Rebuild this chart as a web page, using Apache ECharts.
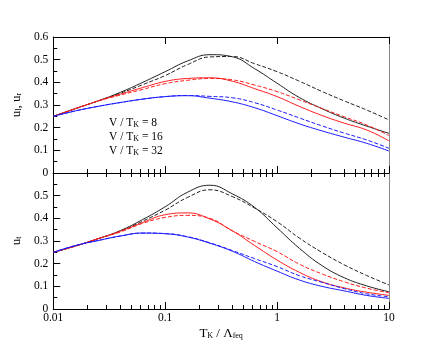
<!DOCTYPE html>
<html><head><meta charset="utf-8">
<script src="https://cdn.jsdelivr.net/npm/echarts@6/dist/echarts.min.js"></script>
<style>html,body{margin:0;padding:0;background:#fff}#c{width:436px;height:344px}</style>
</head><body><div id="c"></div>
<script>
const xs = [0.01,0.0158,0.0251,0.0398,0.0631,0.1,0.158,0.251,0.398,0.631,1,1.58,2.51,3.98,6.31,10];
// top panel (u_l, u_r)
const topBlackSolid  = [.25,.284,.318,.356,.4,.447,.494,.522,.513,.46,.396,.333,.284,.242,.207,.175];
const topBlackDashed = [.25,.284,.318,.352,.39,.43,.478,.512,.514,.482,.447,.405,.36,.318,.278,.234];
const topRedSolid    = [.25,.284,.318,.348,.377,.404,.417,.42,.405,.372,.337,.294,.254,.22,.19,.142];
const topRedDashed   = [.25,.284,.317,.344,.369,.394,.409,.417,.411,.388,.359,.323,.285,.248,.212,.165];
const topBlueSolid   = [.25,.274,.294,.311,.326,.337,.341,.33,.314,.288,.253,.217,.186,.158,.131,.097];
const topBlueDashed  = [.25,.274,.294,.311,.326,.337,.342,.338,.332,.31,.278,.243,.208,.176,.146,.109];
// bottom panel (u_t)
const botBlackSolid  = [.25,.278,.31,.346,.395,.451,.515,.546,.508,.448,.358,.268,.192,.138,.102,.076];
const botBlackDashed = [.25,.278,.31,.343,.388,.436,.492,.526,.496,.445,.385,.313,.25,.195,.148,.106];
const botRedSolid    = [.25,.278,.31,.343,.382,.416,.424,.397,.345,.28,.216,.162,.12,.093,.074,.06];
const botRedDashed   = [.25,.278,.31,.34,.378,.404,.413,.4,.345,.298,.253,.198,.155,.12,.092,.072];
const botBlueSolid   = [.25,.28,.302,.322,.335,.332,.318,.29,.255,.209,.167,.128,.1,.08,.06,.047];
const botBlueDashed  = [.25,.28,.302,.322,.335,.333,.319,.292,.258,.222,.187,.147,.118,.09,.067,.054];

const xMajor = [0.01,0.1,1,10];
const xMinor = [0.02,0.03,0.04,0.05,0.06,0.07,0.08,0.09,0.2,0.3,0.4,0.5,0.6,0.7,0.8,0.9,2,3,4,5,6,7,8,9];
const legendLabels = ['8','16','32'];

const FONT = 'Liberation Serif';
const BLACK = '#222', RED = '#ff1a1a', BLUE = '#1a1aff';
const sub = {fontFamily: FONT, fontSize: 8, color: '#000', padding: [7,0,0,0], lineHeight: 8, verticalAlign: 'bottom'};

function pts(vals){ return xs.map((x,i)=>[x, vals[i]]); }
function ln(vals, color, dashed, xi, yi){
  return {type:'line', data: pts(vals), xAxisIndex: xi, yAxisIndex: yi, showSymbol:false, symbol:'none', smooth:0.45,
    lineStyle:{color: color, width:1, type: dashed ? [4,2] : 'solid'}, z: 5, silent:true, animation:false};
}
function xAx(grid, pos, ticks, len, opts){
  return Object.assign({type:'log', logBase:10, min:0.01, max:10, gridIndex:grid, position:pos,
    axisLine:{show:true, onZero:false, lineStyle:{color:'#000', width:1}},
    axisTick:{show: ticks.length>0, inside:true, length:len, customValues: ticks.length? ticks : undefined, lineStyle:{color:'#000', width:1}},
    axisLabel:{show:false}, splitLine:{show:false}, minorTick:{show:false}}, opts||{});
}
function yAx(grid, showTop, name){
  return {type:'value', gridIndex:grid, min:0, max:0.6, interval:0.1, position:'left',
    axisLine:{show:true, lineStyle:{color:'#000', width:1}},
    axisTick:{show:true, inside:true, length:7, lineStyle:{color:'#000'}},
    minorTick:{show:true, splitNumber:2, length:4, lineStyle:{color:'#000'}},
    splitLine:{show:false}, minorSplitLine:{show:false},
    axisLabel:{show:true, margin:5, fontFamily:FONT, fontSize:11.5, color:'#000',
      formatter: v => (!showTop && v > 0.55) ? '' : (Math.round(v*10)/10).toString()},
    name: name, nameLocation:'middle', nameRotate:90, nameGap:21,
    nameTextStyle:{fontFamily:FONT, fontSize:13, color:'#000', rich:{s:sub}}
  };
}
function yRight(grid){
  return {type:'value', gridIndex:grid, min:0, max:0.6, position:'right',
    axisLine:{show:true, lineStyle:{color:'#888', width:1}}, axisTick:{show:false}, axisLabel:{show:false}, splitLine:{show:false}};
}

const chart = echarts.init(document.getElementById('c'), null, {renderer:'canvas'});
chart.setOption({
  animation:false,
  backgroundColor:'#fff',
  grid:[{left:51, top:37, width:338, height:136}, {left:51, top:173, width:338, height:136}],
  xAxis:[
    xAx(0,'bottom',xMajor,7),
    xAx(0,'top',xMajor,7),
    xAx(0,'bottom',xMinor,4,{axisLine:{show:false}}),
    xAx(0,'top',xMinor,4,{axisLine:{show:false}}),
    xAx(1,'bottom',xMajor,7,{axisLabel:{show:true, customValues: xMajor, margin:3, fontFamily:FONT, fontSize:11.5, color:'#000',
        formatter: v => String(v)},
      name:'T{s|K} / Λ{s|feq}', nameLocation:'middle', nameGap:16,
      nameTextStyle:{fontFamily:FONT, fontSize:13, color:'#000', rich:{s:sub}}}),
    xAx(1,'bottom',xMinor,4,{axisLine:{show:false}}),
    xAx(1,'top',[],0)
  ],
  yAxis:[ yAx(0,true,'u{s|l}, u{s|r}'), yAx(1,false,'u{s|t}'), yRight(0), yRight(1) ],
  series:[
    ln(topBlackSolid, BLACK, false, 0, 0), ln(topBlackDashed, BLACK, true, 0, 0),
    ln(topRedSolid, RED, false, 0, 0), ln(topRedDashed, RED, true, 0, 0),
    ln(topBlueSolid, BLUE, false, 0, 0), ln(topBlueDashed, BLUE, true, 0, 0),
    ln(botBlackSolid, BLACK, false, 4, 1), ln(botBlackDashed, BLACK, true, 4, 1),
    ln(botRedSolid, RED, false, 4, 1), ln(botRedDashed, RED, true, 4, 1),
    ln(botBlueSolid, BLUE, false, 4, 1), ln(botBlueDashed, BLUE, true, 4, 1)
  ],
  graphic: legendLabels.map((lab, i) => ({
    type:'text', left:109, top:114 + i*14, z:10,
    style:{text:'V / T{s|K} = ' + lab, fontFamily:FONT, fontSize:11.5, fill:'#000',
      rich:{s:{fontFamily:FONT, fontSize:8, fill:'#000', padding:[7,0,0,0], lineHeight:8, verticalAlign:'bottom'}}}
  }))
});
</script></body></html>
